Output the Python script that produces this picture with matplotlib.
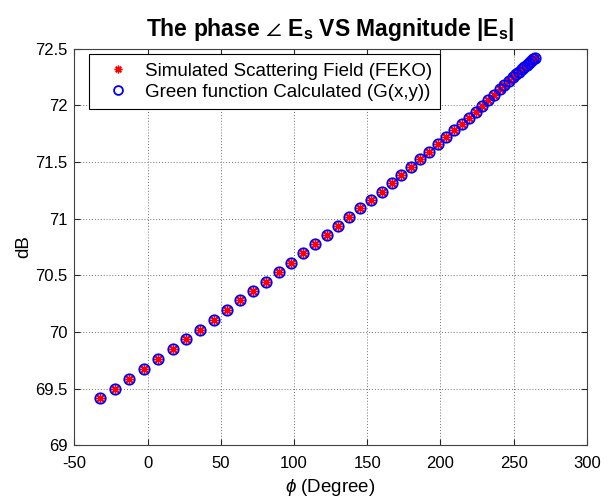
import matplotlib
matplotlib.use("Agg")
import matplotlib.pyplot as plt

plt.rcParams['font.family'] = ['Liberation Sans', 'DejaVu Sans']
plt.rcParams['mathtext.fontset'] = 'custom'
plt.rcParams['mathtext.rm'] = 'Liberation Sans'
plt.rcParams['mathtext.it'] = 'Liberation Sans:italic'
plt.rcParams['mathtext.bf'] = 'Liberation Sans:bold'
plt.rcParams['axes.unicode_minus'] = False

phase_deg = [-32.4, -22.2, -12.4, -2.4, 7.2, 17.2, 26.3, 36.0, 45.2, 54.5, 63.3, 72.2,
             80.9, 89.6, 98.0, 106.3, 114.5, 122.3, 130.2, 137.7, 145.1, 152.6, 159.9,
             166.7, 173.2, 179.9, 186.0, 191.9,
             198.3, 204.0, 209.2, 214.5, 219.5, 224.2, 228.5, 232.6, 236.7, 240.4,
             243.5, 246.6, 249.3,
             251.4, 253.4, 255.4, 257.3, 259.0, 260.5, 262.0, 263.3, 264.4]
magnitude_db = [69.415, 69.50, 69.588, 69.676, 69.764, 69.85, 69.936, 70.02, 70.106,
                70.19, 70.28, 70.362,
                70.444, 70.527, 70.612, 70.695, 70.777, 70.856, 70.936, 71.015, 71.092,
                71.168, 71.238, 71.312, 71.383, 71.454, 71.524, 71.589,
                71.657, 71.718, 71.780, 71.836, 71.891, 71.944, 71.997, 72.048, 72.094,
                72.142, 72.183, 72.218, 72.253,
                72.276, 72.298, 72.320, 72.341, 72.360, 72.376, 72.393, 72.407, 72.420]

x_ticks = [-50, 0, 50, 100, 150, 200, 250, 300]
y_ticks = [69, 69.5, 70, 70.5, 71, 71.5, 72, 72.5]
y_tick_labels = ['69', '69.5', '70', '70.5', '71', '71.5', '72', '72.5']

fig = plt.figure(figsize=(6.10, 5.01), dpi=100)
ax = fig.add_axes([0.1218, 0.1112, 0.8402, 0.7916])

ax.plot(phase_deg, magnitude_db, linestyle='none', marker=(8, 2, 0), markersize=6.5,
        markeredgecolor='red', markerfacecolor='red', markeredgewidth=1.0,
        label='Simulated Scattering Field (FEKO)', zorder=3)
ax.plot(phase_deg, magnitude_db, linestyle='none', marker='o', markersize=7.5,
        markeredgecolor='blue', markerfacecolor='none', markeredgewidth=1.3,
        label='Green function Calculated (G(x,y))', zorder=4)

ax.set_xlim(-50, 300)
ax.set_ylim(69, 72.5)
ax.set_xticks(x_ticks)
ax.set_yticks(y_ticks)
ax.set_yticklabels(y_tick_labels)
ax.grid(True, linestyle=(0, (1, 2)), color='#707070', linewidth=0.7)
ax.set_axisbelow(True)
ax.tick_params(direction='in', length=4, labelsize=12, colors='#262626',
               top=True, right=True, labelcolor='black')
ax.tick_params(axis='x', pad=8)
ax.tick_params(axis='y', pad=5)
for s in ax.spines.values():
    s.set_color('#404040')
    s.set_linewidth(0.8)

ax.set_xlabel(r'$\phi$ (Degree)', fontsize=13.5, labelpad=4)
ax.set_ylabel('dB', fontsize=13.5, labelpad=2)
ax.set_title(r'The phase $\angle$ E$_{\mathbf{s}}$ VS Magnitude |E$_{\mathbf{s}}$|',
             fontsize=16.5, fontweight='bold', pad=9)

leg = ax.legend(loc='upper left', bbox_to_anchor=(0.0293, 0.9859), borderaxespad=0,
                fontsize=13.5, frameon=True, fancybox=False, markerscale=0.85,
                edgecolor='black', framealpha=1, borderpad=0.45, handletextpad=0.3,
                labelspacing=0.2, handlelength=2.2)
leg.get_frame().set_linewidth(0.8)

fig.savefig('out.png', dpi=100)
